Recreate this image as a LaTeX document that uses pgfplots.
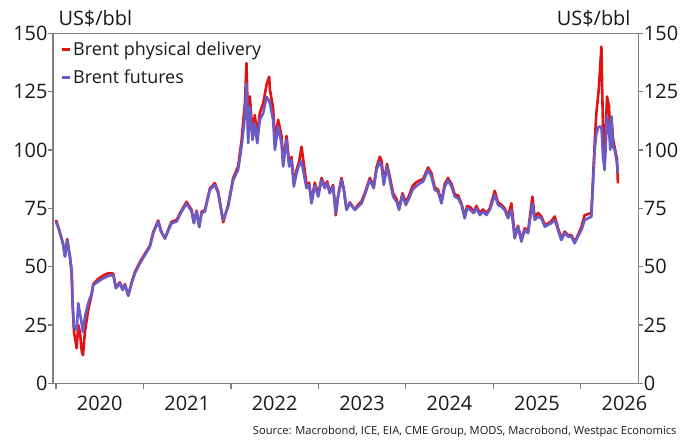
\documentclass[border=0pt]{standalone}
\usepackage{fontspec}
\setmainfont{Open Sans}
\usepackage{pgfplots}
\pgfplotsset{compat=1.18}
\definecolor{phys}{RGB}{225,20,20}
\definecolor{fut}{RGB}{106,92,200}
\definecolor{axgrey}{RGB}{128,128,128}
\definecolor{txt}{RGB}{25,25,25}
\pgfplotstableread{
t fut phys
2020.000 69.3 70.0
2020.023 67.0 67.5
2020.046 64.3 64.5
2020.083 59.3 59.5
2020.103 54.3 54.5
2020.129 61.1 61.8
2020.160 54.3 54.0
2020.179 48.6 47.5
2020.191 34.3 33.0
2020.206 24.3 22.0
2020.237 22.8 15.0
2020.255 34.3 25.0
2020.274 30.0 22.0
2020.294 25.7 14.0
2020.309 22.0 12.0
2020.331 28.5 22.0
2020.369 34.3 31.5
2020.408 38.6 38.0
2020.426 42.1 42.5
2020.483 43.6 44.8
2020.541 45.0 46.2
2020.598 46.0 47.2
2020.655 46.4 47.0
2020.686 40.7 41.0
2020.731 42.9 43.3
2020.762 40.0 40.3
2020.789 42.1 42.5
2020.826 37.8 37.5
2020.865 42.9 43.2
2020.903 47.1 47.8
2020.960 51.4 52.0
2021.017 55.0 55.5
2021.074 58.5 59.0
2021.112 64.3 64.8
2021.169 69.3 69.8
2021.200 65.0 65.5
2021.246 62.1 62.0
2021.295 66.4 67.0
2021.322 68.6 69.2
2021.379 69.3 70.0
2021.437 73.6 74.2
2021.494 77.1 77.8
2021.551 73.6 74.3
2021.577 68.6 68.8
2021.608 73.6 74.0
2021.638 67.1 67.0
2021.665 72.9 73.5
2021.703 73.6 74.3
2021.760 82.9 83.5
2021.817 85.0 85.8
2021.855 81.4 82.0
2021.912 70.0 69.0
2021.969 75.7 76.5
2022.026 87.1 88.0
2022.083 91.4 93.0
2022.122 101.4 104.0
2022.160 114.3 120.0
2022.179 128.6 137.2
2022.198 102.9 106.0
2022.217 118.6 123.0
2022.248 104.3 107.0
2022.274 111.4 115.0
2022.301 102.9 106.0
2022.331 112.9 116.0
2022.369 115.7 120.0
2022.408 122.8 128.0
2022.438 121.0 131.4
2022.446 120.0 126.0
2022.483 112.9 118.0
2022.503 100.0 104.0
2022.541 110.0 112.9
2022.579 102.9 106.0
2022.598 92.9 95.0
2022.637 104.3 106.0
2022.666 92.9 94.5
2022.694 95.7 97.0
2022.720 84.3 85.5
2022.751 90.0 91.5
2022.781 93.6 95.0
2022.808 95.0 101.4
2022.865 83.6 85.0
2022.895 85.0 86.0
2022.922 77.1 78.0
2022.960 85.0 86.0
2022.998 80.0 81.0
2023.037 87.1 88.0
2023.074 83.6 84.5
2023.101 85.7 86.5
2023.131 81.4 82.0
2023.169 84.3 85.0
2023.200 72.9 72.0
2023.226 80.0 80.5
2023.265 87.1 88.0
2023.291 82.9 83.5
2023.322 74.3 74.5
2023.360 77.1 77.5
2023.417 74.3 74.5
2023.455 75.7 76.5
2023.494 77.1 78.0
2023.531 80.7 81.5
2023.589 87.1 88.0
2023.634 83.6 84.5
2023.665 91.4 92.5
2023.703 95.0 97.1
2023.722 93.0 95.5
2023.749 85.0 86.5
2023.786 92.9 94.0
2023.817 87.1 88.5
2023.855 80.0 81.5
2023.894 77.9 79.0
2023.923 74.3 75.0
2023.962 80.7 81.5
2024.000 76.4 77.5
2024.038 79.3 80.5
2024.077 82.9 84.5
2024.114 84.3 86.0
2024.160 85.7 87.0
2024.198 86.4 87.5
2024.255 91.4 92.5
2024.294 88.6 90.0
2024.331 82.9 84.0
2024.369 82.1 83.0
2024.408 77.1 78.0
2024.446 84.3 85.5
2024.483 87.1 88.0
2024.522 84.3 85.5
2024.560 80.0 81.0
2024.598 79.3 80.5
2024.637 76.4 77.0
2024.674 70.7 71.5
2024.701 75.0 76.0
2024.739 74.3 75.5
2024.777 72.9 73.5
2024.808 75.0 76.0
2024.846 72.1 73.0
2024.883 73.6 74.5
2024.922 72.1 73.0
2024.960 74.3 75.0
2025.017 80.7 82.5
2025.055 76.4 77.5
2025.094 75.7 76.5
2025.131 74.3 75.0
2025.169 70.7 71.5
2025.208 74.3 77.1
2025.246 62.1 63.0
2025.283 67.1 67.5
2025.322 60.7 61.5
2025.360 65.7 66.5
2025.398 64.3 65.0
2025.448 77.1 80.0
2025.474 70.0 71.0
2025.512 71.4 73.0
2025.551 70.7 71.5
2025.589 67.1 68.0
2025.626 67.9 68.5
2025.665 68.6 69.5
2025.703 70.0 71.5
2025.741 65.7 66.5
2025.779 61.4 62.0
2025.817 64.3 65.0
2025.855 62.9 63.5
2025.894 62.9 63.5
2025.931 60.0 60.5
2025.969 62.9 63.5
2026.008 65.7 67.0
2026.046 70.0 72.1
2026.083 70.7 72.5
2026.122 71.4 73.0
2026.141 85.0 88.0
2026.160 100.0 103.0
2026.179 107.1 115.7
2026.206 110.0 125.7
2026.237 110.0 144.3
2026.246 104.0 126.0
2026.255 97.1 110.0
2026.274 91.4 95.0
2026.301 114.3 122.9
2026.324 108.6 118.6
2026.339 100.0 104.0
2026.351 114.3 114.3
2026.369 101.4 105.0
2026.389 100.0 101.0
2026.415 94.3 96.0
2026.426 90.0 85.7
}\brent
\begin{document}
\begin{tikzpicture}
\pgfplotsset{
  common/.style={
    at={(0,0)}, anchor=south west,
    scale only axis, width=585.5bp, height=350bp,
    xmin=2019.966, xmax=2026.661, ymin=0, ymax=150,
    axis line style={axgrey, line width=1.3bp},
    tick style={axgrey, line width=1.3bp},
    tick align=outside,
    major tick length=5bp,
    ytick={0,25,...,150},
    /pgf/number format/assume math mode=true,
    tick label style={font=\fontsize{20}{20}\selectfont, text=txt},
  }
}
\begin{axis}[common,
  ytick pos=left,
  yticklabel style={xshift=3bp},
  xtick={2020.5,2021.5,2022.5,2023.5,2024.5,2025.5,2026.5},
  xticklabels={2020,2021,2022,2023,2024,2025,2026},
  xticklabel style={yshift=-4bp},
  major x tick style={draw=none},
  minor xtick={2020,2021,2022,2023,2024,2025,2026},
  minor tick length=6bp,
  xtick pos=bottom,
  legend style={at={(0.012,0.982)}, anchor=north west, draw=none, fill=none,
    font=\fontsize{18}{18}\selectfont, text=txt, row sep=9bp, inner sep=0pt,
    cells={anchor=west}},
  legend image code/.code={\draw[#1, line width=3bp] (0bp,0bp) -- (8bp,0bp);},
]
\addplot[phys, line width=2.6bp, line join=round, no marks] table[x=t, y=phys] {\brent};
\addlegendentry{Brent physical delivery}
\addplot[fut, line width=2.6bp, line join=round, no marks] table[x=t, y=fut] {\brent};
\addlegendentry{Brent futures}
\end{axis}
\begin{axis}[common,
  axis y line*=right, axis x line=none,
  ytick pos=right, yticklabel pos=right,
  yticklabel style={xshift=-3bp},
]
\end{axis}
\node[anchor=base west, font=\fontsize{20}{20}\selectfont, text=txt] at (2bp,358bp) {US\$/bbl};
\node[anchor=base east, font=\fontsize{20}{20}\selectfont, text=txt] at (581bp,358bp) {US\$/bbl};
\node[anchor=base east, font=\fontsize{11.2}{11.2}\selectfont, text=txt] at (627bp,-51.5bp) {Source: Macrobond, ICE, EIA, CME Group, MODS, Macrobond, Westpac Economics};
\pgfresetboundingbox
\path[use as bounding box] (-53bp,-56.7bp) rectangle (631bp,383.3bp);
\end{tikzpicture}
\end{document}
